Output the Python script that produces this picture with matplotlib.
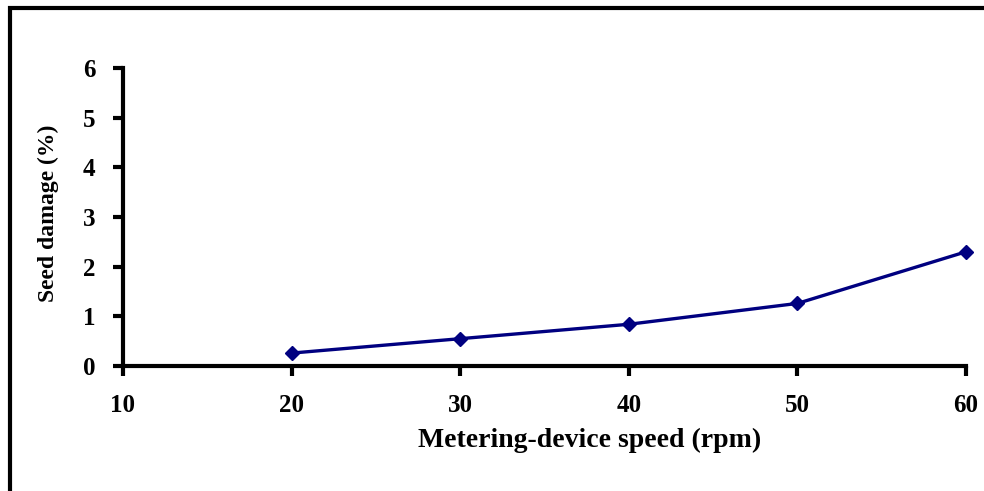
import matplotlib
matplotlib.use('Agg')
import matplotlib.pyplot as plt
from matplotlib.patches import Rectangle

speed = [20, 30, 40, 50, 60]
damage = [0.26, 0.55, 0.84, 1.26, 2.30]
xticks = [10, 20, 30, 40, 50, 60]
yticks = [0, 1, 2, 3, 4, 5, 6]

plt.rcParams['font.family'] = 'Liberation Serif'
plt.rcParams['font.weight'] = 'bold'

fig = plt.figure(figsize=(9.84, 4.91), dpi=100)
ax = fig.add_axes([123 / 984, 1 - 366 / 491, (966 - 123) / 984, (366 - 68) / 491])

ax.plot(speed, damage, color='#000080', lw=2.4, marker='D', ms=7.5,
        markerfacecolor='#000080', markeredgecolor='#000080', clip_on=False)

ax.set_xlim(10, 60)
ax.set_ylim(0, 6)
ax.set_xticks(xticks)
ax.set_yticks(yticks)
for s in ('top', 'right'):
    ax.spines[s].set_visible(False)
for s in ('left', 'bottom'):
    ax.spines[s].set_linewidth(3)
ax.tick_params(axis='both', direction='out', width=3, length=7, labelsize=18)
ax.tick_params(axis='y', pad=13)
ax.tick_params(axis='x', pad=13)
for lab in ax.get_xticklabels() + ax.get_yticklabels():
    lab.set_fontweight('bold')

# label positions in pixel terms, converted to axes fractions
ax.set_xlabel('Metering-device speed (rpm)', fontsize=20, fontweight='bold')
ax.xaxis.set_label_coords((590 - 123) / (966 - 123), -(428 - 366) / (366 - 68))
ax.set_ylabel('Seed damage (%)', fontsize=17, fontweight='bold')
ax.yaxis.set_label_coords(-(123 - 59) / (966 - 123), (366 - 213) / (366 - 68))

# outer frame (cut off on the right and bottom)
fig.patches.append(Rectangle((10 / 984, -0.1), 1.2, 1 - 8 / 491 + 0.1,
                             transform=fig.transFigure, fill=False,
                             lw=3, edgecolor='black'))

fig.savefig('out.png', dpi=100)
